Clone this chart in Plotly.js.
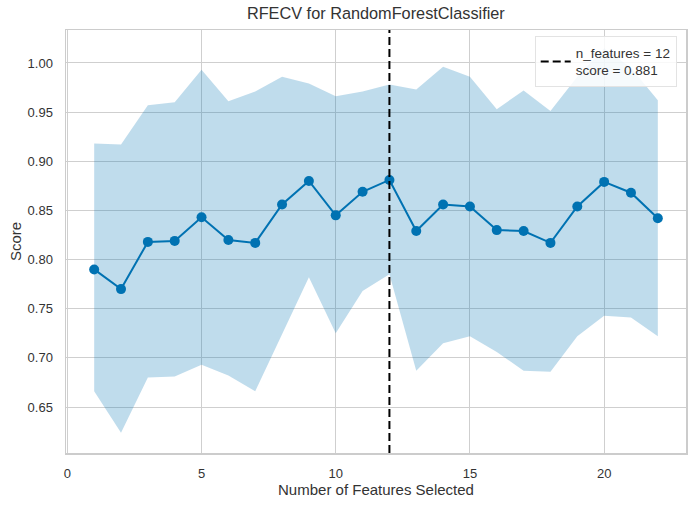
<!DOCTYPE html>
<html>
<head>
<meta charset="utf-8">
<script src="https://cdn.plot.ly/plotly-3.0.1.min.js"></script>
<style>html,body{margin:0;padding:0;background:#fff;}#chart{width:696px;height:507px;}</style>
</head>
<body>
<div id="chart"></div>
<script>
// Data
var nFeatures = [1,2,3,4,5,6,7,8,9,10,11,12,13,14,15,16,17,18,19,20,21,22];
var meanScore = [0.790,0.770,0.818,0.819,0.843,0.820,0.817,0.856,0.880,0.845,0.869,0.881,0.829,0.856,0.854,0.830,0.829,0.817,0.854,0.879,0.868,0.842];
var upperScore = [0.918,0.917,0.957,0.960,0.993,0.961,0.971,0.986,0.979,0.966,0.971,0.978,0.973,0.996,0.986,0.953,0.972,0.951,0.986,1.015,0.995,0.962];
var lowerScore = [0.666,0.624,0.680,0.681,0.693,0.682,0.666,0.724,0.782,0.725,0.768,0.785,0.687,0.715,0.722,0.706,0.687,0.686,0.722,0.743,0.741,0.722];
var bestN = 12;
var bestScore = 0.881;
var yTicks = [0.65,0.70,0.75,0.80,0.85,0.90,0.95,1.00];
var xTicks = [0,5,10,15,20];

var blue = '#0072B2';
var fontFam = '"Liberation Sans", Arial, sans-serif';
var textCol = '#333333';

var traces = [
  {x: nFeatures, y: lowerScore, mode: 'lines', line: {width: 0, color: blue},
   showlegend: false, hoverinfo: 'skip'},
  {x: nFeatures, y: upperScore, mode: 'lines', line: {width: 0, color: blue},
   fill: 'tonexty', fillcolor: 'rgba(0,114,178,0.25)', showlegend: false, hoverinfo: 'skip'},
  {x: nFeatures, y: meanScore, mode: 'lines+markers',
   line: {color: blue, width: 2}, marker: {color: blue, size: 10},
   showlegend: false}
];

var layout = {
  width: 696, height: 507,
  margin: {l: 66, r: 10, t: 30, b: 54},
  paper_bgcolor: '#ffffff', plot_bgcolor: '#ffffff',
  font: {family: fontFam, color: textCol, size: 13},
  title: {text: 'RFECV for RandomForestClassifier', font: {size: 16.3, color: textCol},
          x: 0.54, xanchor: 'center', y: 0.985, yanchor: 'top'},
  xaxis: {
    range: [-0.05, 23.05], tickvals: xTicks, ticktext: xTicks.map(String),
    showgrid: true, gridcolor: '#cfcfcf', gridwidth: 1, zeroline: false,
    showline: true, mirror: true, linecolor: '#cccccc', linewidth: 1.5,
    ticks: '', ticklabelstandoff: 8, tickfont: {size: 13},
    title: {text: 'Number of Features Selected', font: {size: 15}, standoff: 4}
  },
  yaxis: {
    range: [0.6033, 1.0335], tickvals: yTicks, ticktext: yTicks.map(function(v){return v.toFixed(2);}),
    showgrid: true, gridcolor: '#cfcfcf', gridwidth: 1, zeroline: false,
    showline: true, mirror: true, linecolor: '#cccccc', linewidth: 1.5,
    ticks: '', ticklabelstandoff: 9, tickfont: {size: 13},
    title: {text: 'Score', font: {size: 15}, standoff: 2}
  },
  shapes: [{
    type: 'line', xref: 'x', yref: 'paper', x0: bestN, x1: bestN, y0: 0, y1: 1,
    line: {color: '#000000', width: 2, dash: '8px,4px'},
    showlegend: true,
    name: 'n_features = ' + bestN + '<br>score = ' + bestScore.toFixed(3)
  }],
  legend: {
    x: 0.985, xanchor: 'right', y: 0.985, yanchor: 'top',
    bgcolor: 'rgba(255,255,255,0.85)', bordercolor: '#e3e3e3', borderwidth: 1,
    font: {size: 13.5, color: textCol}, valign: 'middle'
  }
};

Plotly.newPlot('chart', traces, layout, {displayModeBar: false, staticPlot: true});
</script>
</body>
</html>
